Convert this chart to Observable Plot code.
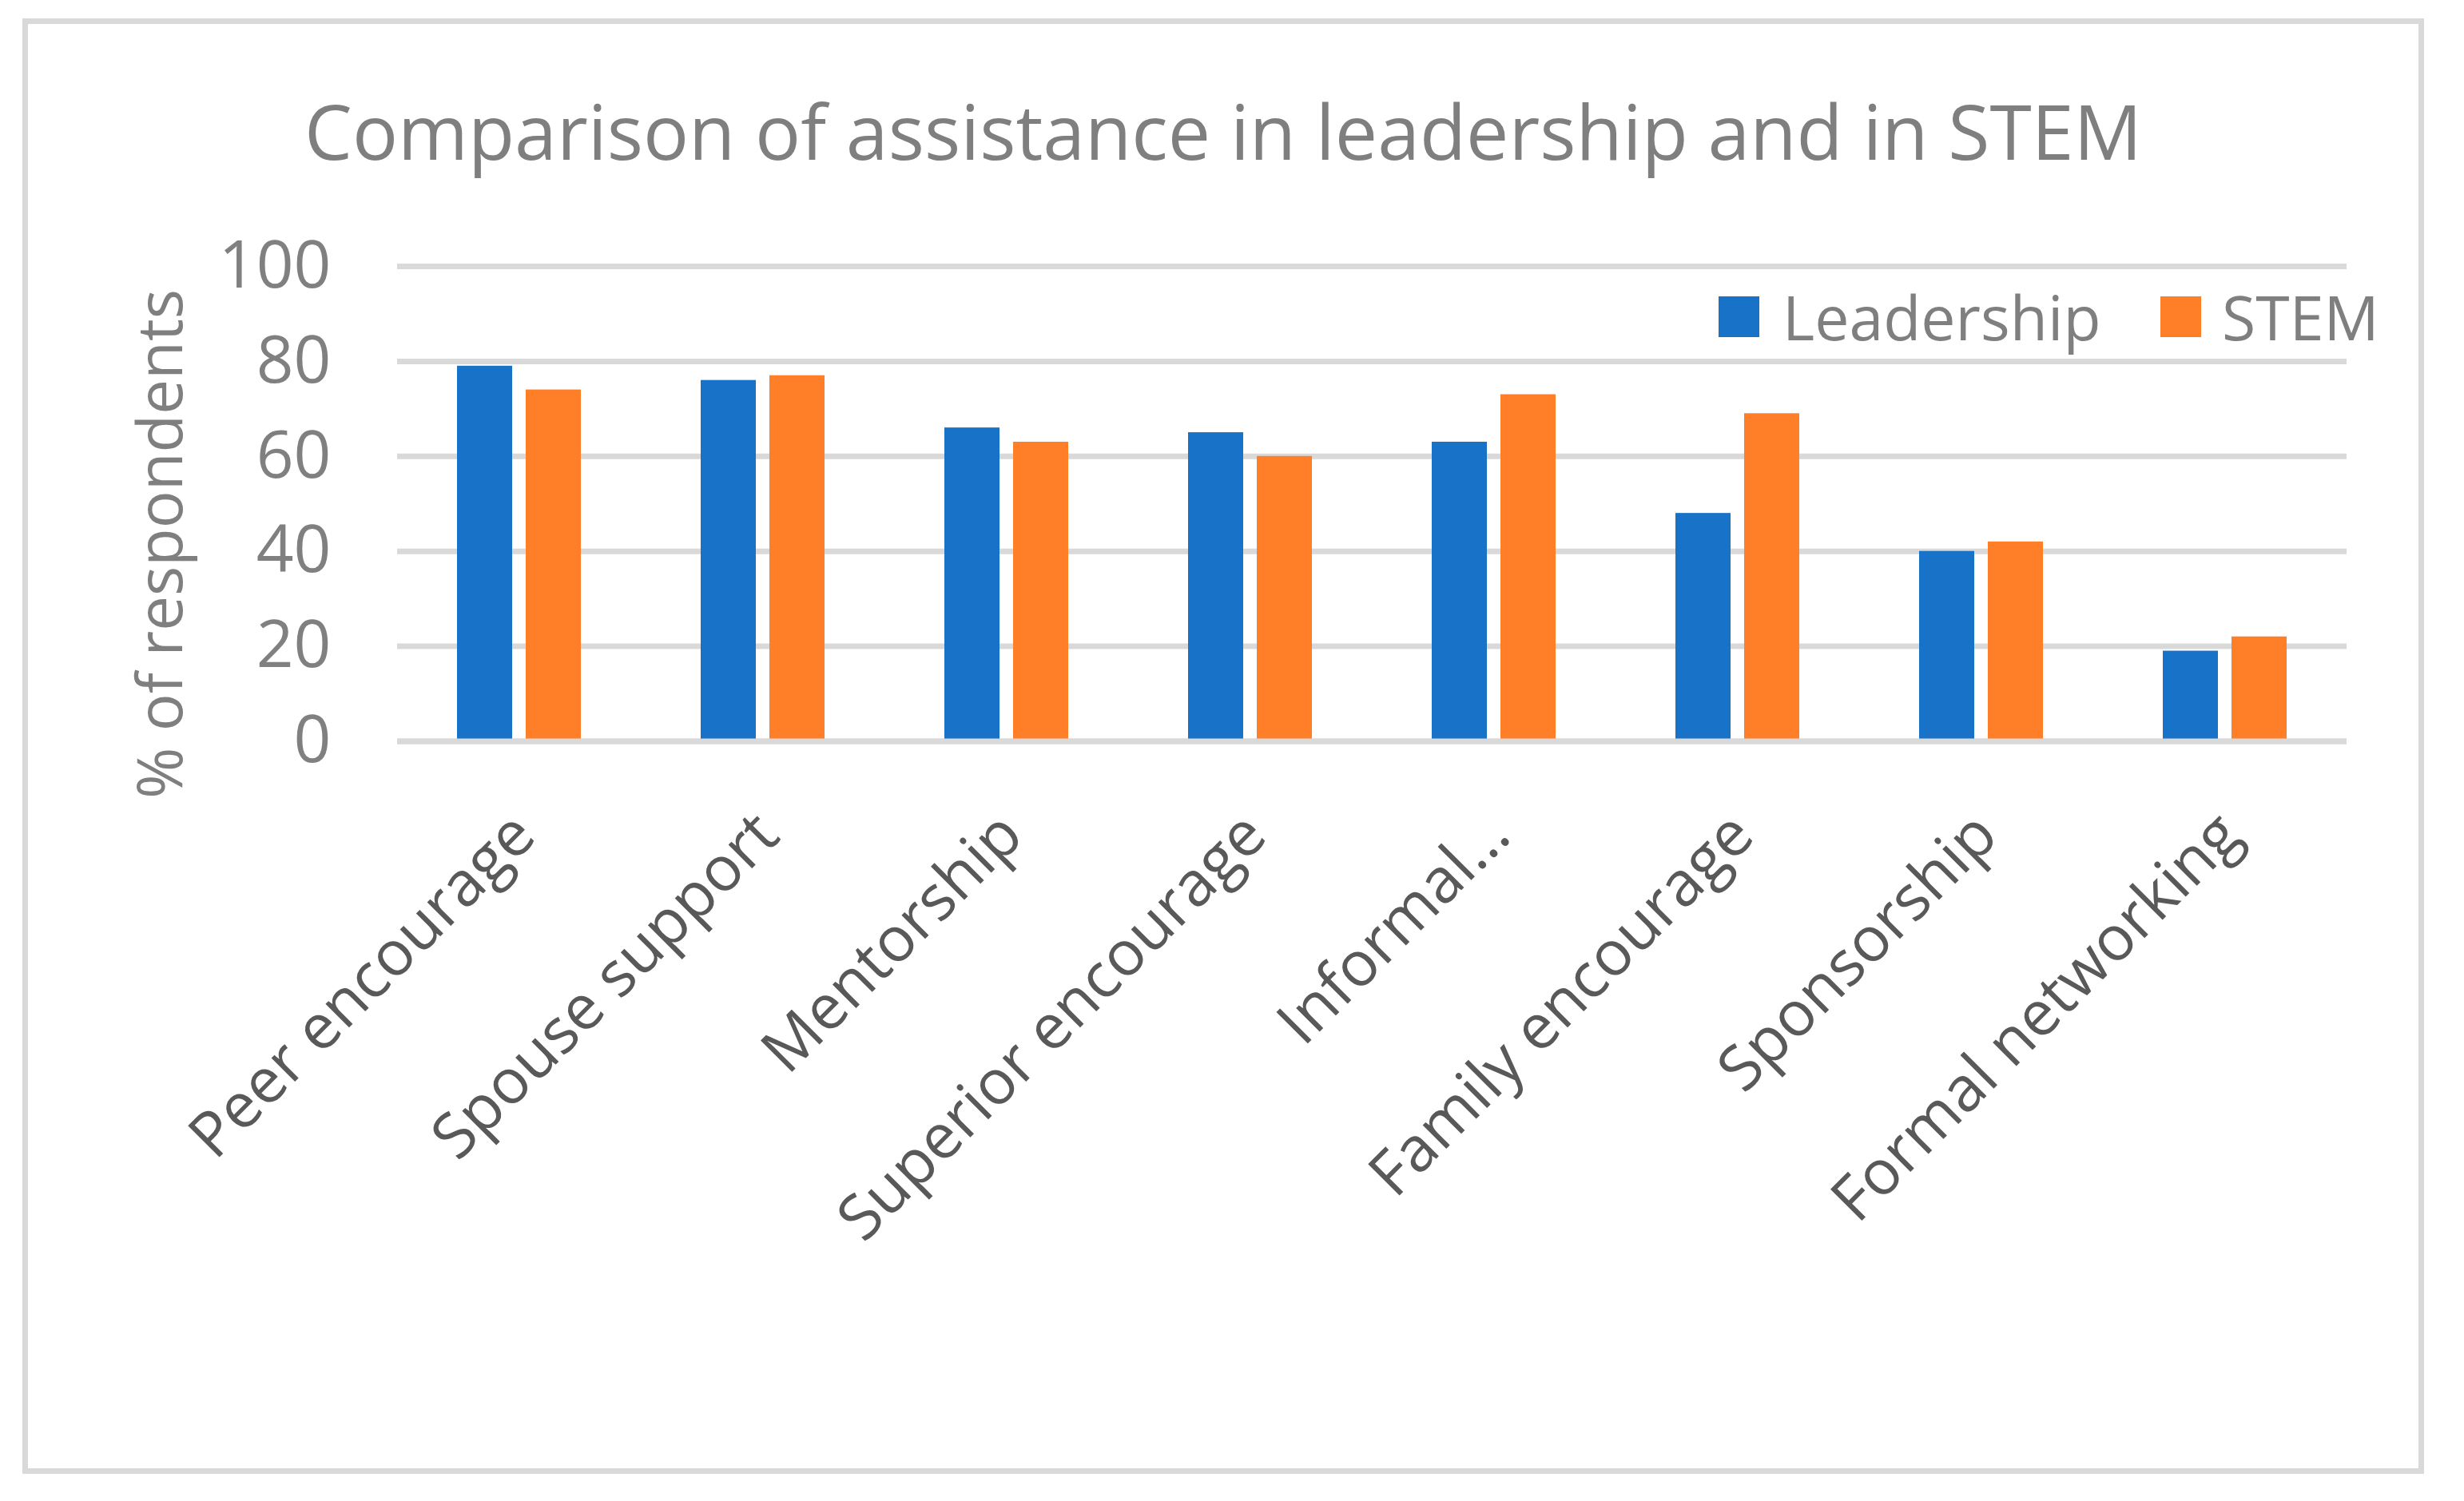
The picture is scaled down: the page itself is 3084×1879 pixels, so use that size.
<!DOCTYPE html>
<html>
<head>
<meta charset="utf-8">
<script src="https://cdn.jsdelivr.net/npm/d3@7"></script>
<script src="https://cdn.jsdelivr.net/npm/@observablehq/plot@0.6"></script>
<style>
  html, body { margin: 0; padding: 0; background: #ffffff; }
  #wrap { position: relative; width: 3084px; height: 1879px; background: #ffffff; overflow: hidden; font-family: "Open Sans", sans-serif; }
  #titlebox { position: relative; width: 3084px; height: 260px; }
  #title { position: absolute; left: 0; width: 3062px; top: 116px; text-align: center; font-size: 95px; line-height: 1; color: #7f7f7f; white-space: nowrap; }
  #chart svg { display: block; }
  #border { position: absolute; left: 28px; top: 23px; width: 3006px; height: 1822px; box-sizing: border-box; border: 7px solid #d9d9d9; pointer-events: none; }
  #ylabel { position: absolute; left: 198px; top: 681px; transform: translate(-50%, -50%) rotate(-90deg); font-size: 78px; line-height: 1; color: #7f7f7f; white-space: nowrap; }
  .lg-sw { position: absolute; width: 51px; height: 51px; top: 371px; }
  .lg-tx { position: absolute; top: 358px; font-size: 77px; line-height: 1; color: #7f7f7f; white-space: nowrap; }
</style>
</head>
<body>
<div id="wrap">
  <div id="titlebox"><div id="title"></div></div>
  <div id="chart"></div>
  <div id="ylabel"></div>
  <div id="legend"></div>
  <div id="border"></div>
</div>
<script>
// ---- data ----
const categories = ["Peer encourage", "Spouse support", "Mentorship", "Superior encourage", "Informal…", "Family encourage", "Sponsorship", "Formal networking"];
const series = ["Leadership", "STEM"];
const leadership = [79, 76, 66, 65, 63, 48, 40, 19];
const stem = [74, 77, 63, 60, 73, 69, 42, 22];
const yTicks = [0, 20, 40, 60, 80, 100];
const colors = ["#1873c8", "#fe7f27"];
const titleText = "Comparison of assistance in leadership and in STEM";
const yLabelText = "% of respondents";

// ---- table ----
const rows = [];
categories.forEach((c, i) => {
  rows.push({category: c, series: series[0], value: leadership[i]});
  rows.push({category: c, series: series[1], value: stem[i]});
});

document.getElementById("title").textContent = titleText;
document.getElementById("ylabel").textContent = yLabelText;

// legend
const legend = document.getElementById("legend");
const lgPos = [[2151, 2231], [2704, 2781]];
series.forEach((s, i) => {
  const sw = document.createElement("div");
  sw.className = "lg-sw";
  sw.style.left = lgPos[i][0] + "px";
  sw.style.background = colors[i];
  legend.appendChild(sw);
  const tx = document.createElement("div");
  tx.className = "lg-tx";
  tx.style.left = lgPos[i][1] + "px";
  tx.textContent = s;
  legend.appendChild(tx);
});

const chart = Plot.plot({
  width: 3084,
  height: 1619,
  marginTop: 73,
  marginBottom: 951.5,
  marginLeft: 493,
  marginRight: 144,
  style: {fontFamily: "Open Sans, sans-serif", background: "#ffffff"},
  fx: {domain: categories, paddingInner: 0, paddingOuter: 0, axis: null},
  x: {domain: series, paddingInner: 0.2, paddingOuter: 0.865, axis: null},
  y: {domain: [0, 100], axis: null},
  color: {domain: series, range: colors},
  marks: [
    Plot.gridY(yTicks, {stroke: "#d9d9d9", strokeWidth: 7, strokeOpacity: 1}),
    Plot.barY(rows, {fx: "category", x: "series", y: "value", fill: "series"}),
    Plot.ruleY([0], {stroke: "#d9d9d9", strokeWidth: 7}),
    Plot.axisY(yTicks, {tickSize: 0, tickPadding: 83, fontSize: 82, fill: "#808080", label: null}),
    Plot.axisFx({anchor: "bottom", tickRotate: -45, tickSize: 0, tickPadding: 104, dx: 6, fontSize: 78, fill: "#595959", label: null})
  ]
});
document.getElementById("chart").appendChild(chart);
</script>
</body>
</html>
